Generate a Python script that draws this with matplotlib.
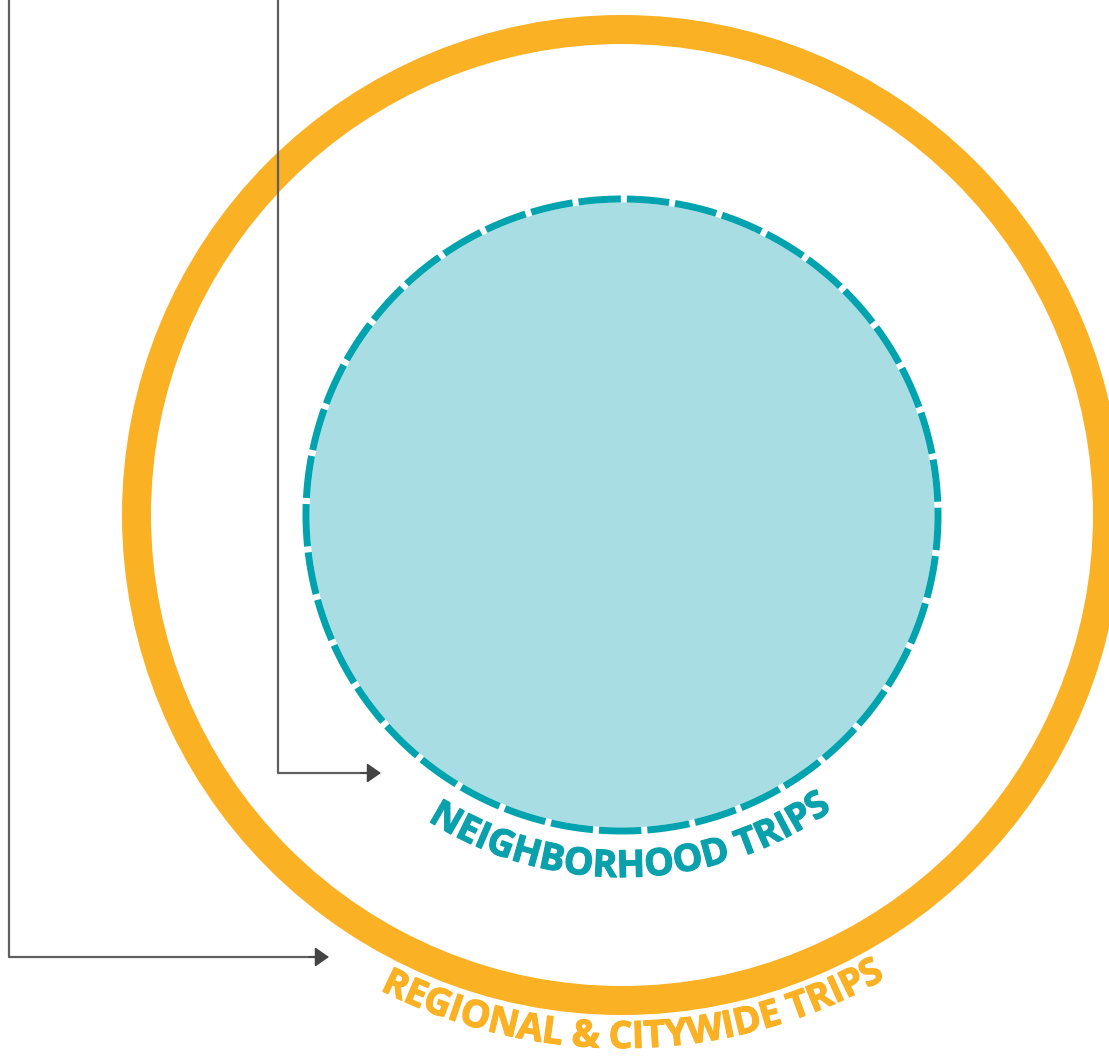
import numpy as np
import matplotlib
matplotlib.use('Agg')
import matplotlib.pyplot as plt
import matplotlib.patheffects as pe
from matplotlib.patches import Circle
from matplotlib.font_manager import FontProperties, findfont
from matplotlib.ft2font import FT2Font

W, H = 1109, 1056
cx, cy = 622, 515
PT = 72 / 100  # points per pixel at dpi 100

# labels on the two rings
ring_labels = ['NEIGHBORHOOD TRIPS', 'REGIONAL & CITYWIDE TRIPS']
ring_colors = ['#0BA1AC', '#FBB124']
label_radii = [362, 533]      # baseline radius, px
label_offsets = [1.5, 1.3]    # degrees to the right of bottom
label_size = 27
tracking = 0.965

orange = '#FBB124'
teal = '#00A3AE'
teal_fill = '#A8DDE3'
grey = '#5f5f5f'

outer_r, outer_w = 485.5, 29
fill_r, dash_r, dash_w = 312.5, 316, 7
n_dashes = 41
gap_px = 6
first_gap = 26.0   # degrees from top, counter-clockwise

# callout lines: vertical x, elbow y, arrow tip x
call_x = [9, 278]
call_y = [957, 773]
call_tip = [329, 381]


def curved_text(ax, s, r, offset, color, size):
    prop = FontProperties(family='Open Sans', weight='bold', size=size)
    font = FT2Font(findfont(prop))
    font.set_size(size, 100)
    adv = np.array([font.load_char(ord(ch)).linearHoriAdvance / 65536 for ch in s]) * tracking
    rr = r - 0.36 * size / PT
    pos = np.cumsum(adv) - adv / 2 - adv.sum() / 2
    for ch, p in zip(s, pos):
        th = p / rr + np.radians(offset)
        ax.text(cx + r * np.sin(th), cy + r * np.cos(th), ch,
                rotation=np.degrees(th), rotation_mode='anchor',
                ha='center', va='baseline', fontproperties=prop, color=color,
                path_effects=[pe.withStroke(linewidth=0.8, foreground=color,
                                            joinstyle='miter')])


fig = plt.figure(figsize=(W / 100, H / 100), dpi=100)
ax = fig.add_axes([0, 0, 1, 1])
ax.set_xlim(0, W)
ax.set_ylim(H, 0)
ax.axis('off')

ax.add_patch(Circle((cx, cy), outer_r, fill=False, ec=orange, lw=outer_w * PT))
ax.add_patch(Circle((cx, cy), fill_r, fc=teal_fill, ec='none'))

period = 2 * np.pi * dash_r / n_dashes
a0 = np.radians(first_gap) + (gap_px / 2) / dash_r
a = a0 + np.linspace(0, 2 * np.pi, 2000)
ax.plot(cx - dash_r * np.sin(a), cy - dash_r * np.cos(a), color=teal,
        lw=dash_w * PT, solid_capstyle='butt', dash_capstyle='butt',
        linestyle=(0, ((period - gap_px) / dash_w, gap_px / dash_w)))

for x, y, tip in zip(call_x, call_y, call_tip):
    ax.plot([x, x, tip - 10], [0, y, y], color=grey, lw=1.6, zorder=5)
    ax.annotate('', xy=(tip, y), xytext=(tip - 20, y),
                arrowprops=dict(arrowstyle='-|>,head_length=0.43,head_width=0.3',
                                mutation_scale=20, color='#444444', lw=1.2,
                                shrinkA=0, shrinkB=0), zorder=6)

for s, r, off, col in zip(ring_labels, label_radii, label_offsets, ring_colors):
    curved_text(ax, s, r, off, col, label_size)

fig.savefig('out.png', dpi=100)
